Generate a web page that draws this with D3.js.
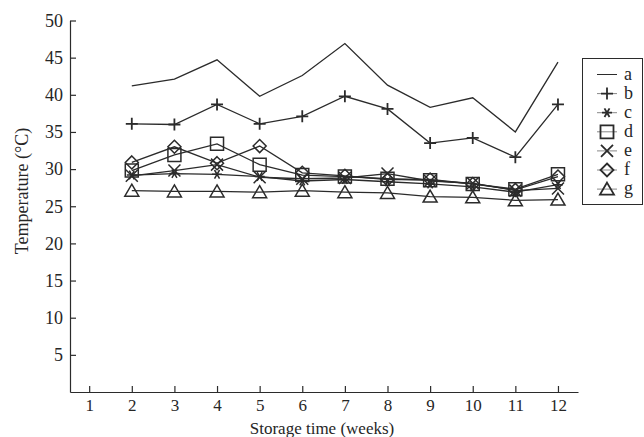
<!DOCTYPE html>
<html>
<head>
<meta charset="utf-8">
<script src="https://cdn.jsdelivr.net/npm/d3@7"></script>
<style>
  html, body { margin: 0; padding: 0; background: #fff; }
  svg { display: block; }
  text { font-family: "Liberation Serif", "DejaVu Serif", serif; fill: #262626; }
</style>
</head>
<body>
<svg id="chart" width="644" height="437"></svg>
<script>
var weeks = [2, 3, 4, 5, 6, 7, 8, 9, 10, 11, 12];
var xTicks = [1, 2, 3, 4, 5, 6, 7, 8, 9, 10, 11, 12];
var yTicks = [5, 10, 15, 20, 25, 30, 35, 40, 45, 50];
var seriesNames = ['a', 'b', 'c', 'd', 'e', 'f', 'g'];
var seriesA = [41.2, 42.1, 44.7, 39.8, 42.6, 46.9, 41.3, 38.3, 39.6, 35.0, 44.4];
var seriesB = [36.1, 36.0, 38.7, 36.1, 37.1, 39.8, 38.1, 33.5, 34.2, 31.6, 38.7];
var seriesC = [29.2, 29.4, 29.3, 29.0, 28.4, 28.6, 28.3, 28.0, 27.6, 26.9, 27.9];
var seriesD = [29.8, 31.9, 33.4, 30.6, 29.2, 29.0, 28.7, 28.5, 28.0, 27.3, 29.3];
var seriesE = [29.1, 29.8, 30.6, 28.9, 28.7, 28.8, 29.4, 28.4, 28.1, 27.1, 27.4];
var seriesF = [30.9, 33.0, 30.8, 33.1, 29.5, 29.1, 28.6, 28.6, 28.0, 27.2, 29.0];
var seriesG = [27.1, 27.0, 27.0, 26.9, 27.1, 26.9, 26.8, 26.3, 26.2, 25.8, 25.9];

var allSeries = [seriesA, seriesB, seriesC, seriesD, seriesE, seriesF, seriesG];
var markers = ['none', 'plus', 'star', 'square', 'cross', 'diamond', 'triangle'];

var INK = '#2b2b2b';
var FONT_SIZE = 18;
var X_FONT_SIZE = 17;

var svg = d3.select('#chart');

var x = d3.scaleLinear().domain([0.55, 12.47]).range([70, 578]);
var y = d3.scaleLinear().domain([0, 50]).range([392, 20.5]);

// marker shapes, drawn around (0,0)
var markerPath = function(type) {
    switch (type) {
        case 'plus':
            return 'M-6,0H6M0,-6V6';
        case 'star':
            return 'M-5,0H5M-2.5,-4.3L2.5,4.3M2.5,-4.3L-2.5,4.3';
        case 'square':
            return 'M-6.5,-6.5H6.5V6.5H-6.5Z';
        case 'cross':
            return 'M-6,-6L6,6M6,-6L-6,6';
        case 'diamond':
            return 'M0,-6.5L6.5,0L0,6.5L-6.5,0Z';
        case 'triangle':
            return 'M0,-6.5L7,5.5H-7Z';
    }
    return '';
};

// axes
var yAxis = d3.axisLeft(y)
    .tickValues(yTicks)
    .tickSizeInner(-6)
    .tickSizeOuter(0)
    .tickPadding(7);

var xAxis = d3.axisBottom(x)
    .tickValues(xTicks)
    .tickSizeInner(-6)
    .tickSizeOuter(0)
    .tickPadding(7);

var gy = svg.append('g')
    .attr('transform', 'translate(' + x.range()[0] + ',0)')
    .call(yAxis);

var gx = svg.append('g')
    .attr('transform', 'translate(0,' + y.range()[0] + ')')
    .call(xAxis);

[gx, gy].forEach(function(g) {
    g.selectAll('path, line').attr('stroke', INK).attr('stroke-width', 1.2);
    g.selectAll('text')
        .style('font-family', '"Liberation Serif", serif')
        .style('font-size', (g === gx ? X_FONT_SIZE : FONT_SIZE) + 'px')
        .attr('fill', '#262626');
});

svg.append('text')
    .attr('transform', 'translate(28,' + 191 + ') rotate(-90)')
    .attr('text-anchor', 'middle')
    .style('font-size', FONT_SIZE + 'px')
    .text('Temperature (°C)');

svg.append('text')
    .attr('x', 322)
    .attr('y', 433.5)
    .attr('text-anchor', 'middle')
    .style('font-size', X_FONT_SIZE + 'px')
    .text('Storage time (weeks)');

// lines and markers
var line = d3.line()
    .x(function(d, i) { return x(weeks[i]); })
    .y(function(d) { return y(d); });

allSeries.forEach(function(values, s) {
    svg.append('path')
        .attr('d', line(values))
        .attr('fill', 'none')
        .attr('stroke', INK)
        .attr('stroke-width', 1.3);

    if (markers[s] === 'none') return;

    svg.append('g').selectAll('path')
        .data(values)
        .enter().append('path')
        .attr('transform', function(d, i) {
            return 'translate(' + x(weeks[i]) + ',' + y(d) + ')';
        })
        .attr('d', markerPath(markers[s]))
        .attr('fill', 'none')
        .attr('stroke', INK)
        .attr('stroke-width', markers[s] === 'plus' ? 1.8 : 1.5);
});

// legend
var legend = svg.append('g');

legend.append('rect')
    .attr('x', 582.5)
    .attr('y', 58.5)
    .attr('width', 60)
    .attr('height', 146)
    .attr('fill', 'none')
    .attr('stroke', INK)
    .attr('stroke-width', 1);

seriesNames.forEach(function(name, s) {
    var ly = 74.5 + s * 19.1;
    legend.append('line')
        .attr('x1', 597)
        .attr('x2', 617)
        .attr('y1', ly)
        .attr('y2', ly)
        .attr('stroke', s === 0 ? INK : '#888')
        .attr('stroke-width', 1);
    if (markers[s] !== 'none') {
        legend.append('path')
            .attr('transform', 'translate(607,' + ly + ')')
            .attr('d', markerPath(markers[s]))
            .attr('fill', 'none')
            .attr('stroke', INK)
            .attr('stroke-width', 1.8);
    }
    legend.append('text')
        .attr('x', 624)
        .attr('y', ly + 5)
        .style('font-size', FONT_SIZE + 'px')
        .text(name);
});
</script>
</body>
</html>
